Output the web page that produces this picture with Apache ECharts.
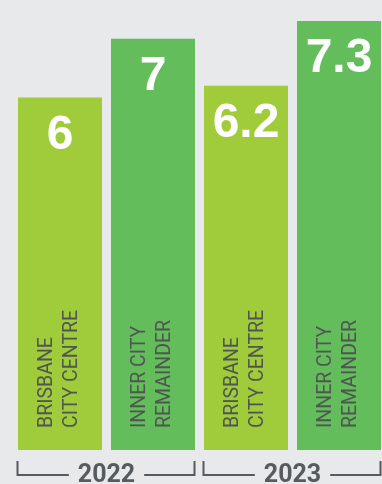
<!DOCTYPE html>
<html>
<head>
<meta charset="utf-8">
<script src="https://cdn.jsdelivr.net/npm/echarts@6/dist/echarts.min.js"></script>
<style>
  html, body { margin: 0; padding: 0; background: #e8e9eb; }
  #chart { width: 382px; height: 484px; }
</style>
</head>
<body>
<div id="chart"></div>
<script>
// Areas, values and year groups
var categories = ['BRISBANE\nCITY CENTRE', 'INNER CITY\nREMAINDER', 'BRISBANE\nCITY CENTRE', 'INNER CITY\nREMAINDER'];
var values = [6, 7, 6.2, 7.3];
var years = ['2022', '2023'];
var barColors = ['#a0cb3a', '#64bd5b', '#a0cb3a', '#64bd5b'];

var LABEL_GREY = '#4f5652';
var BRACKET_GREY = '#555b5e';
var YEAR_FONT = 'bold 25px Roboto';

var chart = echarts.init(document.getElementById('chart'), null, { renderer: 'canvas' });

var option = {
  backgroundColor: '#e8e9eb',
  animation: false,
  grid: {
    left: 13.5, width: 372, top: 14, bottom: 34,
    containLabel: false,
    outerBoundsMode: 'none'
  },
  xAxis: [
    {
      type: 'category',
      data: categories,
      axisLine: { show: false },
      axisTick: { show: false },
      axisLabel: {
        inside: true,
        interval: 0,
        rotate: 90,
        align: 'left',
        verticalAlign: 'middle',
        margin: 22,
        fontFamily: 'Roboto',
        fontSize: 19.5,
        lineHeight: 25,
        color: LABEL_GREY,
        padding: [0, 0, 7, 0]
      },
      z: 5
    },
    {
      type: 'category',
      data: years,
      position: 'bottom',
      axisLine: { show: false },
      axisTick: { show: false },
      axisLabel: {
        interval: 0,
        margin: 13,
        fontFamily: 'Roboto',
        fontWeight: 'bold',
        fontSize: 25,
        color: BRACKET_GREY
      }
    }
  ],
  yAxis: {
    type: 'value',
    min: 0,
    max: 7.42,
    show: false,
    splitLine: { show: false }
  },
  series: [
    {
      type: 'bar',
      xAxisIndex: 0,
      barWidth: 84,
      data: values.map(function (v, i) {
        return { value: v, itemStyle: { color: barColors[i] } };
      }),
      label: {
        show: true,
        position: 'insideTop',
        distance: 14,
        color: '#ffffff',
        fontFamily: '"Liberation Sans", Arial, sans-serif',
        fontWeight: 'bold',
        fontSize: 48
      }
    }
  ]
};

chart.setOption(option);

// Year brackets under each pair of bars, placed from the axis scales
function drawBrackets() {
  var ctx = document.createElement('canvas').getContext('2d');
  ctx.font = YEAR_FONT;
  var baseY = chart.convertToPixel({ yAxisIndex: 0 }, 0);
  var half = 84 / 2;
  var elements = [];
  years.forEach(function (y, g) {
    var left = chart.convertToPixel({ xAxisIndex: 0 }, 2 * g) - half - 0.5;
    var right = chart.convertToPixel({ xAxisIndex: 0 }, 2 * g + 1) + half - 0.5;
    var mid = chart.convertToPixel({ xAxisIndex: 1 }, g);
    var tw = ctx.measureText(y).width;
    var gap = 9;
    var top = baseY + 11;
    var low = baseY + 25;
    elements.push({
      type: 'polyline',
      shape: { points: [[left, top], [left, low], [mid - tw / 2 - gap, low]] },
      style: { stroke: BRACKET_GREY, lineWidth: 2, fill: null }
    });
    elements.push({
      type: 'polyline',
      shape: { points: [[mid + tw / 2 + gap, low], [right, low], [right, top]] },
      style: { stroke: BRACKET_GREY, lineWidth: 2, fill: null }
    });
  });
  chart.setOption({ graphic: { elements: elements } });
}
drawBrackets();
</script>
</body>
</html>
